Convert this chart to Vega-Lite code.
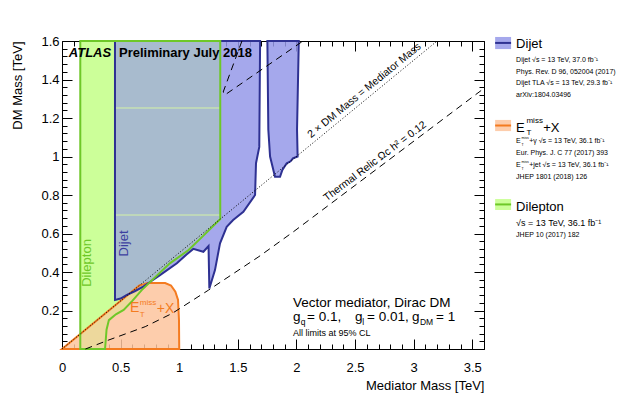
{
  "$schema": "https://vega.github.io/schema/vega-lite/v6.json",
  "width": 422,
  "height": 308,
  "autosize": {"type": "none"},
  "padding": {"left": 62, "top": 41, "right": 139, "bottom": 49},
  "background": "white",
  "config": {
    "font": "Liberation Sans",
    "view": {"stroke": "black", "strokeWidth": 1},
    "axis": {"grid": false, "domain": false, "labelColor": "black", "tickColor": "black", "titleColor": "black", "labelFontSize": 13, "titleFontSize": 13, "titleFontWeight": "normal", "labelOverlap": false, "labelFlush": false, "tickWidth": 1}
  },
  "datasets": {
    "poly": [
      {"r": "dilep", "o": 1, "x": 0.156, "y": 0},
      {"r": "dilep", "o": 2, "x": 0.367, "y": 0},
      {"r": "dilep", "o": 3, "x": 0.375, "y": 0.06},
      {"r": "dilep", "o": 4, "x": 0.38, "y": 0.1},
      {"r": "dilep", "o": 5, "x": 0.4, "y": 0.15},
      {"r": "dilep", "o": 6, "x": 0.46, "y": 0.18},
      {"r": "dilep", "o": 7, "x": 0.526, "y": 0.203},
      {"r": "dilep", "o": 8, "x": 0.6, "y": 0.25},
      {"r": "dilep", "o": 9, "x": 0.68, "y": 0.306},
      {"r": "dilep", "o": 10, "x": 0.8, "y": 0.376},
      {"r": "dilep", "o": 11, "x": 0.92, "y": 0.445},
      {"r": "dilep", "o": 12, "x": 1.08, "y": 0.514},
      {"r": "dilep", "o": 13, "x": 1.2, "y": 0.585},
      {"r": "dilep", "o": 14, "x": 1.35, "y": 0.675},
      {"r": "dilep", "o": 15, "x": 1.35, "y": 1.6},
      {"r": "dilep", "o": 16, "x": 0.156, "y": 1.6},
      {"r": "met", "o": 1, "x": 0, "y": 0},
      {"r": "met", "o": 2, "x": 0.66, "y": 0.33},
      {"r": "met", "o": 3, "x": 0.7, "y": 0.337},
      {"r": "met", "o": 4, "x": 0.73, "y": 0.343},
      {"r": "met", "o": 5, "x": 0.88, "y": 0.343},
      {"r": "met", "o": 6, "x": 0.93, "y": 0.33},
      {"r": "met", "o": 7, "x": 0.967, "y": 0.298},
      {"r": "met", "o": 8, "x": 0.99, "y": 0.255},
      {"r": "met", "o": 9, "x": 0.998, "y": 0.15},
      {"r": "met", "o": 10, "x": 1.0, "y": 0},
      {"r": "dijet1", "o": 1, "x": 0.452, "y": 1.6},
      {"r": "dijet1", "o": 2, "x": 0.452, "y": 0.255},
      {"r": "dijet1", "o": 3, "x": 0.5, "y": 0.262},
      {"r": "dijet1", "o": 4, "x": 0.55, "y": 0.28},
      {"r": "dijet1", "o": 5, "x": 0.62, "y": 0.3},
      {"r": "dijet1", "o": 6, "x": 0.694, "y": 0.324},
      {"r": "dijet1", "o": 7, "x": 0.76, "y": 0.352},
      {"r": "dijet1", "o": 8, "x": 0.836, "y": 0.384},
      {"r": "dijet1", "o": 9, "x": 0.98, "y": 0.445},
      {"r": "dijet1", "o": 10, "x": 1.06, "y": 0.49},
      {"r": "dijet1", "o": 11, "x": 1.12, "y": 0.52},
      {"r": "dijet1", "o": 12, "x": 1.206, "y": 0.505},
      {"r": "dijet1", "o": 13, "x": 1.25, "y": 0.535},
      {"r": "dijet1", "o": 14, "x": 1.257, "y": 0.315},
      {"r": "dijet1", "o": 15, "x": 1.305, "y": 0.41},
      {"r": "dijet1", "o": 16, "x": 1.348, "y": 0.549},
      {"r": "dijet1", "o": 17, "x": 1.405, "y": 0.635},
      {"r": "dijet1", "o": 18, "x": 1.46, "y": 0.67},
      {"r": "dijet1", "o": 19, "x": 1.547, "y": 0.713},
      {"r": "dijet1", "o": 20, "x": 1.647, "y": 0.8},
      {"r": "dijet1", "o": 21, "x": 1.655, "y": 0.965},
      {"r": "dijet1", "o": 22, "x": 1.683, "y": 1.05},
      {"r": "dijet1", "o": 23, "x": 1.69, "y": 1.6},
      {"r": "dijet2", "o": 1, "x": 1.752, "y": 1.6},
      {"r": "dijet2", "o": 2, "x": 1.76, "y": 1.14},
      {"r": "dijet2", "o": 3, "x": 1.775, "y": 1.0},
      {"r": "dijet2", "o": 4, "x": 1.817, "y": 0.895},
      {"r": "dijet2", "o": 5, "x": 1.86, "y": 0.895},
      {"r": "dijet2", "o": 6, "x": 1.88, "y": 0.93},
      {"r": "dijet2", "o": 7, "x": 1.917, "y": 0.965},
      {"r": "dijet2", "o": 8, "x": 1.95, "y": 0.975},
      {"r": "dijet2", "o": 9, "x": 1.97, "y": 0.99},
      {"r": "dijet2", "o": 10, "x": 2.01, "y": 1.0},
      {"r": "dijet2", "o": 11, "x": 2.005, "y": 1.14},
      {"r": "dijet2", "o": 12, "x": 2.02, "y": 1.6}
    ],
    "relic": [
      {"b": "low", "o": 1, "x": 0.2, "y": 0},
      {"b": "low", "o": 2, "x": 0.4, "y": 0.047},
      {"b": "low", "o": 3, "x": 0.71, "y": 0.116},
      {"b": "low", "o": 4, "x": 0.94, "y": 0.185},
      {"b": "low", "o": 5, "x": 1.25, "y": 0.306},
      {"b": "low", "o": 6, "x": 1.68, "y": 0.48},
      {"b": "low", "o": 7, "x": 1.974, "y": 0.609},
      {"b": "low", "o": 8, "x": 3.6, "y": 1.354},
      {"b": "up", "o": 1, "x": 1.535, "y": 1.6},
      {"b": "up", "o": 2, "x": 1.375, "y": 1.335},
      {"b": "up", "o": 3, "x": 1.39, "y": 1.32},
      {"b": "up", "o": 4, "x": 2.056, "y": 1.6}
    ],
    "diag": [{"x": 0, "y": 0}, {"x": 3.2, "y": 1.6}],
    "hatch": [{"x": 0.452, "x2": 1.35, "y": 1.252}, {"x": 0.452, "x2": 1.35, "y": 0.696}],
    "leg": [
      {"c": "dijet", "x": 3.695, "x2": 3.831, "y": 1.621, "y2": 1.558, "ym": 1.59},
      {"c": "met", "x": 3.695, "x2": 3.831, "y": 1.19, "y2": 1.132, "ym": 1.161},
      {"c": "dilep", "x": 3.695, "x2": 3.831, "y": 0.779, "y2": 0.722, "ym": 0.751}
    ],
    "txt": [
      {"k": "atlas", "x": 0.058, "y": 1.518, "t": "ATLAS"},
      {"k": "prelim", "x": 0.486, "y": 1.518, "t": "Preliminary July 2018"},
      {"k": "p13", "x": 1.971, "y": 0.22, "t": "Vector mediator, Dirac DM"},
      {"k": "p13", "x": 1.971, "y": 0.147, "t": "g"},
      {"k": "p13", "x": 2.09, "y": 0.147, "t": "= 0.1,"},
      {"k": "p13", "x": 2.5, "y": 0.147, "t": "g"},
      {"k": "p13", "x": 2.602, "y": 0.147, "t": "= 0.01,"},
      {"k": "p13", "x": 2.986, "y": 0.147, "t": "g"},
      {"k": "p13", "x": 3.191, "y": 0.147, "t": "= 1"},
      {"k": "sub8", "x": 2.037, "y": 0.125, "t": "q"},
      {"k": "sub8", "x": 2.562, "y": 0.125, "t": "l"},
      {"k": "sub8", "x": 3.053, "y": 0.125, "t": "DM"},
      {"k": "p9", "x": 1.971, "y": 0.0675, "t": "All limits at 95% CL"},
      {"k": "L13", "x": 3.874, "y": 1.584, "t": "Dijet"},
      {"k": "L13", "x": 3.874, "y": 1.148, "t": "E"},
      {"k": "L13", "x": 4.105, "y": 1.148, "t": "+X"},
      {"k": "L13", "x": 3.874, "y": 0.738, "t": "Dilepton"},
      {"k": "L8", "x": 3.962, "y": 1.184, "t": "miss"},
      {"k": "L8", "x": 3.962, "y": 1.121, "t": "T"},
      {"k": "L9", "x": 3.874, "y": 0.655, "t": "√s = 13 TeV, 36.1 fb⁻¹"},
      {"k": "L7", "x": 3.874, "y": 1.501, "t": "Dijet √s = 13 TeV, 37.0 fb⁻¹"},
      {"k": "L7", "x": 3.874, "y": 1.439, "t": "Phys. Rev. D 96, 052004 (2017)"},
      {"k": "L7", "x": 3.874, "y": 1.382, "t": "Dijet TLA √s = 13 TeV, 29.3 fb⁻¹"},
      {"k": "L7", "x": 3.874, "y": 1.319, "t": "arXiv:1804.03496"},
      {"k": "L7", "x": 3.874, "y": 1.078, "t": "E"},
      {"k": "L7", "x": 3.985, "y": 1.078, "t": "+γ √s = 13 TeV, 36.1 fb⁻¹"},
      {"k": "L7", "x": 3.874, "y": 1.018, "t": "Eur. Phys. J. C 77 (2017) 393"},
      {"k": "L7", "x": 3.874, "y": 0.956, "t": "E"},
      {"k": "L7", "x": 3.985, "y": 0.956, "t": "+jet √s = 13 TeV, 36.1 fb⁻¹"},
      {"k": "L7", "x": 3.874, "y": 0.894, "t": "JHEP 1801 (2018) 126"},
      {"k": "L7", "x": 3.874, "y": 0.592, "t": "JHEP 10 (2017) 182"},
      {"k": "L5", "x": 3.92, "y": 1.095, "t": "miss"},
      {"k": "L5", "x": 3.92, "y": 1.059, "t": "T"},
      {"k": "L5", "x": 3.92, "y": 0.973, "t": "miss"},
      {"k": "L5", "x": 3.92, "y": 0.937, "t": "T"},
      {"k": "dilepv", "x": 0.213, "y": 0.447, "t": "Dilepton"},
      {"k": "dijetv", "x": 0.525, "y": 0.548, "t": "Dijet"},
      {"k": "diagl", "x": 2.58, "y": 1.342, "t": "2 × DM Mass = Mediator Mass"},
      {"k": "relicl", "x": 2.671, "y": 0.975, "t": "Thermal Relic Ωc h² = 0.12"},
      {"k": "oE", "x": 0.58, "y": 0.211, "t": "E"},
      {"k": "oE", "x": 0.808, "y": 0.208, "t": "+X"},
      {"k": "oS", "x": 0.664, "y": 0.237, "t": "miss"},
      {"k": "oS", "x": 0.664, "y": 0.178, "t": "T"}
    ]
  },
  "resolve": {"axis": {"x": "independent", "y": "independent"}},
  "encoding": {
    "x": {"field": "x", "type": "quantitative", "scale": {"domain": [0, 3.6], "nice": false, "zero": false}, "axis": null},
    "y": {"field": "y", "type": "quantitative", "scale": {"domain": [0, 1.6], "nice": false, "zero": false}, "axis": null}
  },
  "layer": [
    {
      "data": {"name": "poly"},
      "transform": [{"filter": "datum.r == 'dilep'"}],
      "mark": {"type": "line", "interpolate": "linear-closed", "fill": "#ccff99", "strokeWidth": 0},
      "encoding": {
        "x": {"field": "x", "type": "quantitative", "scale": {"domain": [0, 3.6], "nice": false, "zero": false},
          "axis": {"orient": "bottom", "title": "Mediator Mass [TeV]", "titleAnchor": "end", "titlePadding": 0,
            "values": [0,0.1,0.2,0.3,0.4,0.5,0.6,0.7,0.8,0.9,1,1.1,1.2,1.3,1.4,1.5,1.6,1.7,1.8,1.9,2,2.1,2.2,2.3,2.4,2.5,2.6,2.7,2.8,2.9,3,3.1,3.2,3.3,3.4,3.5,3.6],
            "labelExpr": "abs(datum.value*2-round(datum.value*2))<1e-6 && datum.value < 3.55 ? format(datum.value,'~g') : ''",
            "tickSize": {"condition": {"test": "abs(datum.value*2-round(datum.value*2))<1e-6", "value": -10}, "value": -5},
            "labelPadding": 22}},
        "y": {"field": "y", "type": "quantitative", "scale": {"domain": [0, 1.6], "nice": false, "zero": false},
          "axis": {"orient": "left", "title": "DM Mass [TeV]", "titleAnchor": "end", "titlePadding": 16,
            "values": [0,0.04,0.08,0.12,0.16,0.2,0.24,0.28,0.32,0.36,0.4,0.44,0.48,0.52,0.56,0.6,0.64,0.68,0.72,0.76,0.8,0.84,0.88,0.92,0.96,1,1.04,1.08,1.12,1.16,1.2,1.24,1.28,1.32,1.36,1.4,1.44,1.48,1.52,1.56,1.6],
            "labelExpr": "abs(datum.value*5-round(datum.value*5))<1e-6 && datum.value > 0.01 ? format(datum.value,'~g') : ''",
            "tickSize": {"condition": {"test": "abs(datum.value*5-round(datum.value*5))<1e-6", "value": -10}, "value": -5},
            "labelPadding": 13}},
        "order": {"field": "o", "type": "quantitative"}
      }
    },
    {
      "data": {"name": "poly"},
      "transform": [{"filter": "datum.r == 'met'"}],
      "mark": {"type": "line", "interpolate": "linear-closed", "fill": "#fdc49e", "fillOpacity": 0.85, "strokeWidth": 0},
      "encoding": {"order": {"field": "o", "type": "quantitative"}}
    },
    {
      "data": {"name": "poly"},
      "transform": [{"filter": "datum.r == 'dijet1' || datum.r == 'dijet2'"}],
      "mark": {"type": "line", "interpolate": "linear-closed", "fill": "#9599e9", "fillOpacity": 0.85, "strokeWidth": 0},
      "encoding": {"order": {"field": "o", "type": "quantitative"}, "detail": {"field": "r"}}
    },
    {
      "data": {"name": "poly"},
      "transform": [{"filter": "datum.r == 'dilep'"}],
      "mark": {"type": "line", "interpolate": "linear-closed", "fill": "#ccff99", "fillOpacity": 0.22, "strokeWidth": 0},
      "encoding": {"order": {"field": "o", "type": "quantitative"}}
    },
    {
      "data": {"name": "hatch"},
      "mark": {"type": "rule", "color": "#d4f2a6", "strokeWidth": 1},
      "encoding": {"x2": {"field": "x2"}}
    },
    {
      "data": {"name": "poly"},
      "transform": [{"filter": "datum.r == 'met'"}],
      "mark": {"type": "line", "interpolate": "linear-closed", "stroke": "#f47b20", "strokeWidth": 2},
      "encoding": {"order": {"field": "o", "type": "quantitative"}}
    },
    {
      "data": {"name": "poly"},
      "transform": [{"filter": "datum.r == 'dijet1' || datum.r == 'dijet2'"}],
      "mark": {"type": "line", "interpolate": "linear-closed", "stroke": "#2e3192", "strokeWidth": 2},
      "encoding": {"order": {"field": "o", "type": "quantitative"}, "detail": {"field": "r"}}
    },
    {
      "data": {"name": "poly"},
      "transform": [{"filter": "datum.r == 'dilep'"}],
      "mark": {"type": "line", "interpolate": "linear-closed", "stroke": "#6ec828", "strokeWidth": 2},
      "encoding": {"order": {"field": "o", "type": "quantitative"}}
    },
    {
      "data": {"name": "diag"},
      "mark": {"type": "line", "stroke": "black", "strokeWidth": 1, "strokeDash": [1, 2]},
      "encoding": {
        "x": {"field": "x", "type": "quantitative", "scale": {"domain": [0, 3.6], "nice": false, "zero": false},
          "axis": {"orient": "top", "title": null, "labels": false,
            "values": [0,0.1,0.2,0.3,0.4,0.5,0.6,0.7,0.8,0.9,1,1.1,1.2,1.3,1.4,1.5,1.6,1.7,1.8,1.9,2,2.1,2.2,2.3,2.4,2.5,2.6,2.7,2.8,2.9,3,3.1,3.2,3.3,3.4,3.5,3.6],
            "tickSize": {"condition": {"test": "abs(datum.value*2-round(datum.value*2))<1e-6", "value": -10}, "value": -5}}},
        "y": {"field": "y", "type": "quantitative", "scale": {"domain": [0, 1.6], "nice": false, "zero": false},
          "axis": {"orient": "right", "title": null, "labels": false,
            "values": [0,0.04,0.08,0.12,0.16,0.2,0.24,0.28,0.32,0.36,0.4,0.44,0.48,0.52,0.56,0.6,0.64,0.68,0.72,0.76,0.8,0.84,0.88,0.92,0.96,1,1.04,1.08,1.12,1.16,1.2,1.24,1.28,1.32,1.36,1.4,1.44,1.48,1.52,1.56,1.6],
            "tickSize": {"condition": {"test": "abs(datum.value*5-round(datum.value*5))<1e-6", "value": -10}, "value": -5}}}
      }
    },
    {
      "data": {"name": "relic"},
      "mark": {"type": "line", "stroke": "black", "strokeWidth": 1, "strokeDash": [7, 5]},
      "encoding": {"order": {"field": "o", "type": "quantitative"}, "detail": {"field": "b"}}
    },
    {
      "data": {"name": "leg"},
      "mark": {"type": "rect"},
      "encoding": {"x2": {"field": "x2"}, "y2": {"field": "y2"},
        "color": {"field": "c", "type": "nominal", "scale": {"domain": ["dijet", "met", "dilep"], "range": ["#a5a8ec", "#fdcdac", "#ccff99"]}, "legend": null}}
    },
    {
      "data": {"name": "leg"},
      "mark": {"type": "rule", "strokeWidth": 2},
      "encoding": {"x2": {"field": "x2"}, "y": {"field": "ym", "type": "quantitative", "scale": {"domain": [0, 1.6], "nice": false, "zero": false}, "axis": null},
        "stroke": {"field": "c", "type": "nominal", "scale": {"domain": ["dijet", "met", "dilep"], "range": ["#2e3192", "#f47b20", "#6ec828"]}, "legend": null}}
    },
    {
      "data": {"name": "txt"},
      "transform": [{"filter": "datum.k == 'atlas'"}],
      "mark": {"type": "text", "align": "left", "baseline": "alphabetic", "fontSize": 13, "fontWeight": "bold", "fontStyle": "italic"},
      "encoding": {"text": {"field": "t"}}
    },
    {
      "data": {"name": "txt"},
      "transform": [{"filter": "datum.k == 'prelim'"}],
      "mark": {"type": "text", "align": "left", "baseline": "alphabetic", "fontSize": 13, "fontWeight": "bold"},
      "encoding": {"text": {"field": "t"}}
    },
    {
      "data": {"name": "txt"},
      "transform": [{"filter": "datum.k == 'p13'"}],
      "mark": {"type": "text", "align": "left", "baseline": "alphabetic", "fontSize": 13.5},
      "encoding": {"text": {"field": "t"}}
    },
    {
      "data": {"name": "txt"},
      "transform": [{"filter": "datum.k == 'sub8'"}],
      "mark": {"type": "text", "align": "left", "baseline": "alphabetic", "fontSize": 8.5},
      "encoding": {"text": {"field": "t"}}
    },
    {
      "data": {"name": "txt"},
      "transform": [{"filter": "datum.k == 'p9'"}],
      "mark": {"type": "text", "align": "left", "baseline": "alphabetic", "fontSize": 9},
      "encoding": {"text": {"field": "t"}}
    },
    {
      "data": {"name": "txt"},
      "transform": [{"filter": "datum.k == 'L13'"}],
      "mark": {"type": "text", "align": "left", "baseline": "middle", "fontSize": 13},
      "encoding": {"text": {"field": "t"}}
    },
    {
      "data": {"name": "txt"},
      "transform": [{"filter": "datum.k == 'L8'"}],
      "mark": {"type": "text", "align": "left", "baseline": "middle", "fontSize": 8},
      "encoding": {"text": {"field": "t"}}
    },
    {
      "data": {"name": "txt"},
      "transform": [{"filter": "datum.k == 'L9'"}],
      "mark": {"type": "text", "align": "left", "baseline": "middle", "fontSize": 9},
      "encoding": {"text": {"field": "t"}}
    },
    {
      "data": {"name": "txt"},
      "transform": [{"filter": "datum.k == 'L7'"}],
      "mark": {"type": "text", "align": "left", "baseline": "middle", "fontSize": 7},
      "encoding": {"text": {"field": "t"}}
    },
    {
      "data": {"name": "txt"},
      "transform": [{"filter": "datum.k == 'L5'"}],
      "mark": {"type": "text", "align": "left", "baseline": "middle", "fontSize": 3.5},
      "encoding": {"text": {"field": "t"}}
    },
    {
      "data": {"name": "txt"},
      "transform": [{"filter": "datum.k == 'dilepv'"}],
      "mark": {"type": "text", "align": "center", "baseline": "middle", "fontSize": 13, "angle": -90, "color": "#6ec828"},
      "encoding": {"text": {"field": "t"}}
    },
    {
      "data": {"name": "txt"},
      "transform": [{"filter": "datum.k == 'dijetv'"}],
      "mark": {"type": "text", "align": "center", "baseline": "middle", "fontSize": 13, "angle": -90, "color": "#3d3fa0"},
      "encoding": {"text": {"field": "t"}}
    },
    {
      "data": {"name": "txt"},
      "transform": [{"filter": "datum.k == 'diagl'"}],
      "mark": {"type": "text", "align": "center", "baseline": "middle", "fontSize": 10.5, "angle": -39.4},
      "encoding": {"text": {"field": "t"}}
    },
    {
      "data": {"name": "txt"},
      "transform": [{"filter": "datum.k == 'relicl'"}],
      "mark": {"type": "text", "align": "center", "baseline": "middle", "fontSize": 10.5, "angle": -37},
      "encoding": {"text": {"field": "t"}}
    },
    {
      "data": {"name": "txt"},
      "transform": [{"filter": "datum.k == 'oE'"}],
      "mark": {"type": "text", "align": "left", "baseline": "middle", "fontSize": 14, "color": "#f47b20"},
      "encoding": {"text": {"field": "t"}}
    },
    {
      "data": {"name": "txt"},
      "transform": [{"filter": "datum.k == 'oS'"}],
      "mark": {"type": "text", "align": "left", "baseline": "middle", "fontSize": 8, "color": "#f47b20"},
      "encoding": {"text": {"field": "t"}}
    }
  ]
}
